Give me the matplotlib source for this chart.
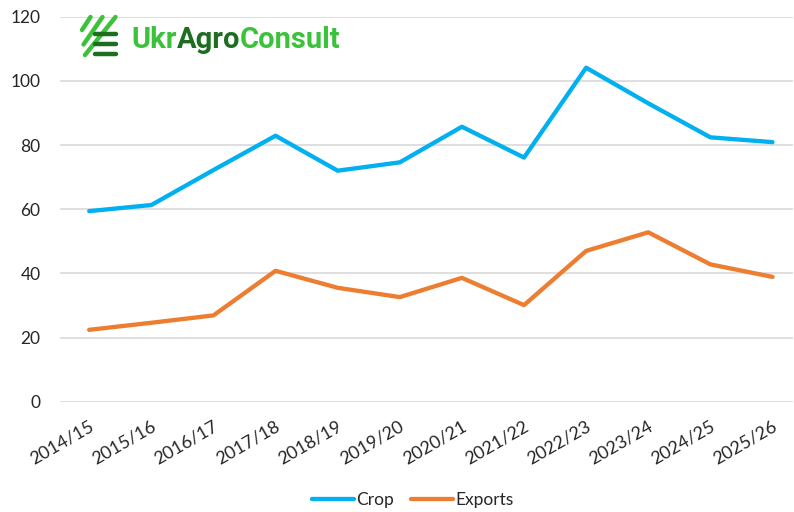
import matplotlib
matplotlib.use("Agg")
import matplotlib.pyplot as plt
from matplotlib.lines import Line2D
from matplotlib.offsetbox import TextArea, HPacker, AnchoredOffsetbox
from matplotlib.transforms import ScaledTranslation

seasons = ["2014/15", "2015/16", "2016/17", "2017/18", "2018/19", "2019/20",
           "2020/21", "2021/22", "2022/23", "2023/24", "2024/25", "2025/26"]
crop = [59.4, 61.3, 72.2, 82.9, 72.0, 74.6, 85.7, 76.1, 104.1, 93.0, 82.4, 80.9]
exports = [22.4, 24.6, 26.9, 40.8, 35.5, 32.6, 38.6, 30.1, 47.0, 52.8, 42.8, 38.9]

plt.rcParams['font.family'] = ['Lato', 'DejaVu Sans']

W, H = 794, 512
fig = plt.figure(figsize=(W / 100, H / 100), dpi=100)
ax = fig.add_axes([60 / W, (H - 401.7) / H, (793 - 60) / W, (401.7 - 16.7) / H])

x = list(range(len(seasons)))
ax.plot(x, crop, color='#00B0F0', lw=3.1, label='Crop', solid_capstyle='round')
ax.plot(x, exports, color='#ED7D31', lw=3.1, label='Exports', solid_capstyle='round')

ax.set_ylim(0, 120)
ax.set_yticks(range(0, 121, 20))
ax.set_xlim(-0.47, 11.33)
ax.set_xticks(x)
ax.set_xticklabels(seasons)
ax.grid(axis='y', color='#D9D9D9', lw=1.2)
ax.set_axisbelow(True)
for s in ax.spines.values():
    s.set_visible(False)

ax.tick_params(axis='y', length=0, pad=14, labelsize=12.5, labelcolor='#262626')
ax.tick_params(axis='x', length=0, pad=17, labelsize=13, labelcolor='#262626')
off = ScaledTranslation(3 / 100, 0, fig.dpi_scale_trans)
for lab in ax.get_xticklabels():
    lab.set_rotation(30)
    lab.set_rotation_mode('anchor')
    lab.set_ha('right')
    lab.set_va('center')
    lab.set_transform(lab.get_transform() + off)

fig.legend(loc='center', bbox_to_anchor=(413 / W, 1 - 500 / H), ncol=2, frameon=False,
           fontsize=12.5, handlelength=2.4, handletextpad=0.15, columnspacing=1.0,
           labelcolor='#262626')

# logo
light = '#3CC13B'
dark = '#1E6E22'
def px(xp, yp):
    return xp / W, 1 - yp / H
for (x0, y0, x1, y1) in [(90.5, 17, 82, 30), (102.5, 17, 83.5, 44.5), (115.5, 17, 85, 55)]:
    (a, b), (c, d) = px(x0, y0), px(x1, y1)
    fig.add_artist(Line2D([a, c], [b, d], transform=fig.transFigure, color=light, lw=3.2,
                          solid_capstyle='round'))
for yb in [33.5, 43.5, 53.5]:
    (a, b), (c, d) = px(95, yb), px(116.5, yb)
    fig.add_artist(Line2D([a, c], [b, d], transform=fig.transFigure, color=dark, lw=3.2,
                          solid_capstyle='round'))

tp = dict(fontsize=21, fontweight='bold', family='Roboto')
parts = [TextArea("Ukr", textprops=dict(color=light, **tp)),
         TextArea("Agro", textprops=dict(color=dark, **tp)),
         TextArea("Consult", textprops=dict(color=light, **tp))]
box = HPacker(children=parts, pad=0, sep=0)
fig.add_artist(AnchoredOffsetbox(loc='center left', child=box, frameon=False, pad=0, borderpad=0,
                                 bbox_to_anchor=px(131, 40), bbox_transform=fig.transFigure))

fig.savefig('out.png', dpi=100)
